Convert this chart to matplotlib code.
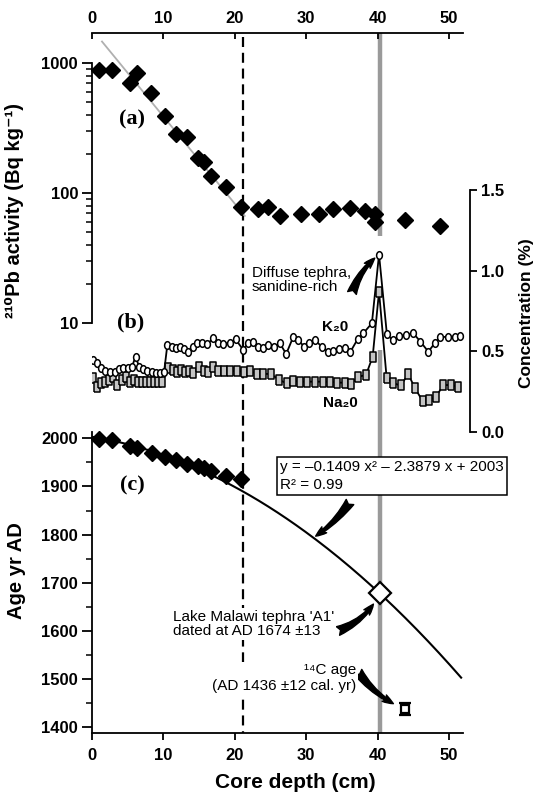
import numpy as np
import matplotlib
matplotlib.use("Agg")
import matplotlib.pyplot as plt
from matplotlib.transforms import Affine2D
from matplotlib.ticker import FixedLocator, NullFormatter

plt.rcParams['font.family'] = ['Liberation Sans', 'DejaVu Sans']

# ---------------- data ----------------
# (a) 210Pb activity
pb_depth = [1.0, 2.8, 5.3, 6.3, 8.3, 10.2, 11.7, 13.3, 14.8, 15.7, 16.7, 18.7, 20.8,
            23.2, 24.7, 26.3, 29.3, 31.8, 33.7, 36.2, 38.3, 39.7, 39.7, 43.8, 48.8]
pb_activity = [888, 895, 701, 842, 588, 393, 284, 270, 186, 173, 137, 111, 79,
               76, 79, 67, 69, 69, 76, 77, 73, 69, 60, 62, 56]
pb_fit_depth = [1.4, 21.4]
pb_fit_activity = [1470, 67]

# (b) K2O and Na2O concentration (%)
k2o_depth = [0.2, 0.65, 1.2, 1.8, 2.5, 3.2, 3.8, 4.4, 5.0, 5.6, 6.1, 6.6, 7.2, 7.75,
             8.4, 9.0, 9.5, 10.1, 10.55, 11.2, 11.7, 12.3, 12.9, 13.5, 14.1, 14.75,
             15.45, 16.15, 17.0, 17.7, 18.4, 19.3, 20.1, 21.2, 21.9, 22.6, 23.3, 24.0,
             24.7, 25.5, 26.3, 27.2, 28.2, 28.9, 29.7, 30.4, 31.2, 32.2, 33.1, 33.8,
             34.6, 35.4, 36.2, 37.2, 38.0, 39.2, 40.2, 41.3, 42.1, 43.0, 44.0, 45.0,
             46.0, 47.1, 48.0, 48.8, 49.8, 50.8, 51.5]
k2o_conc = [0.446, 0.426, 0.395, 0.380, 0.374, 0.374, 0.389, 0.399, 0.399, 0.405, 0.467,
            0.405, 0.389, 0.380, 0.372, 0.368, 0.368, 0.374, 0.539, 0.529, 0.523, 0.529,
            0.515, 0.498, 0.529, 0.550, 0.554, 0.546, 0.581, 0.550, 0.546, 0.554, 0.575,
            0.508, 0.554, 0.560, 0.529, 0.519, 0.539, 0.529, 0.550, 0.484, 0.591, 0.570,
            0.529, 0.550, 0.570, 0.529, 0.498, 0.504, 0.513, 0.523, 0.498, 0.575, 0.612,
            0.674, 1.10, 0.606, 0.570, 0.595, 0.601, 0.612, 0.560, 0.498, 0.550, 0.587,
            0.591, 0.591, 0.595]
na2o_depth = [0.2, 0.75, 1.26, 1.82, 2.43, 2.99, 3.55, 4.16, 4.76, 5.32, 5.88, 6.4, 6.96,
              7.56, 8.12, 8.68, 9.29, 9.85, 10.69, 11.3, 11.86, 12.46, 13.03, 13.63,
              14.19, 14.94, 15.69, 16.29, 16.99, 17.69, 18.49, 19.33, 20.35, 21.34, 22.13,
              23.07, 24.0, 25.03, 26.24, 27.27, 28.2, 29.13, 30.16, 31.23, 32.31, 33.33,
              34.36, 35.43, 36.23, 37.3, 38.37, 39.31, 40.2, 41.27, 42.2, 43.23, 44.3,
              45.24, 46.31, 47.24, 48.18, 49.21, 50.24, 51.31]
na2o_conc = [0.333, 0.281, 0.302, 0.312, 0.322, 0.343, 0.291, 0.322, 0.339, 0.312, 0.322,
             0.312, 0.312, 0.312, 0.312, 0.312, 0.312, 0.312, 0.395, 0.384, 0.374, 0.384,
             0.374, 0.380, 0.368, 0.405, 0.378, 0.374, 0.405, 0.378, 0.378, 0.378, 0.378,
             0.374, 0.378, 0.360, 0.360, 0.360, 0.322, 0.302, 0.318, 0.312, 0.312, 0.312,
             0.312, 0.312, 0.306, 0.306, 0.296, 0.343, 0.353, 0.467, 0.87, 0.333, 0.302,
             0.289, 0.358, 0.271, 0.192, 0.198, 0.219, 0.291, 0.291, 0.281]

# (c) age model
age_depth = [1.0, 2.8, 5.3, 6.3, 8.4, 10.2, 11.7, 13.3, 14.8, 15.7, 16.7, 18.7, 20.8]
age_ad = [1998, 1997, 1983, 1979, 1970, 1961, 1954, 1947, 1943, 1939, 1932, 1922, 1915]
fit_coeffs = [-0.1409, -2.3879, 2003]
fit_depth_range = [0.0, 51.7]
tephra_depth, tephra_age = 40.3, 1678
c14_depth, c14_age, c14_err = 43.8, 1438, 13
boundary_depth = 21.2
tephra_line_depth = 40.4

depth_ticks = [0, 10, 20, 30, 40, 50]

# ---------------- layout helpers ----------------
W, H = 537, 795
fig = plt.figure(figsize=(W / 100, H / 100), dpi=100)
PX = Affine2D().scale(1 / W, -1 / H).translate(0, 1) + fig.transFigure
CM = 7.14          # px per cm
X0 = 92            # px of 0 cm


def rect(l, t, r, b):
    return [l / W, 1 - b / H, (r - l) / W, (b - t) / H]


def clean(ax):
    ax.patch.set_visible(False)
    for s in ax.spines.values():
        s.set_visible(False)
        s.set_linewidth(1.3)


tickfont = dict(fontsize=12, fontweight='bold')
tall_rect = [(-0.36, -0.5), (0.36, -0.5), (0.36, 0.5), (-0.36, 0.5), (-0.36, -0.5)]
tall_oval = [(0.38 * np.cos(t), 0.5 * np.sin(t)) for t in np.linspace(0, 2 * np.pi, 25)]

# background axes for vertical reference lines
R = X0 + 52 * CM
ax_bg = fig.add_axes(rect(X0, 33, R, 733))
clean(ax_bg)
ax_bg.set_xlim(0, 52)
ax_bg.set_ylim(733, 33)
ax_bg.set_xticks([])
ax_bg.set_yticks([])
ax_bg.plot([tephra_line_depth] * 2, [33, 236], color='#9a9a9a', lw=3.2, solid_capstyle='butt', zorder=1)
ax_bg.plot([tephra_line_depth] * 2, [350, 733], color='#9a9a9a', lw=3.2, solid_capstyle='butt', zorder=1)
ax_bg.plot([boundary_depth] * 2, [37, 733], color='black', lw=1.6, dashes=(4.5, 2.6), zorder=1)

# ---------------- (a) ----------------
ax_a = fig.add_axes(rect(X0, 33, R, 323.3))
clean(ax_a)
ax_a.set_yscale('log')
ax_a.set_xlim(0, 52)
ax_a.set_ylim(10, 10 ** 3.233)
ax_a.spines['top'].set_visible(True)
ax_a.spines['left'].set_visible(True)
ax_a.spines['left'].set_bounds(10, 1000)
ax_a.xaxis.set_ticks_position('top')
ax_a.set_xticks(depth_ticks)
ax_a.set_xticklabels([str(t) for t in depth_ticks], **tickfont)
ax_a.tick_params(axis='x', direction='in', length=4, width=1.3, pad=5)
ax_a.yaxis.set_major_locator(FixedLocator([10, 100, 1000]))
ax_a.set_yticklabels(['10', '100', '1000'], **tickfont)
minors = [v * m for m in (10, 100) for v in range(2, 10)]
ax_a.yaxis.set_minor_locator(FixedLocator(minors))
ax_a.yaxis.set_minor_formatter(NullFormatter())
ax_a.tick_params(axis='y', which='major', direction='out', length=7, width=1.3, pad=3)
ax_a.tick_params(axis='y', which='minor', direction='out', length=4.5, width=1.1)
ax_a.plot(pb_fit_depth, pb_fit_activity, color='#b0b0b0', lw=1.3, zorder=2)
ax_a.plot(pb_depth, pb_activity, linestyle='none', marker='D', color='black',
          markersize=8.5, zorder=3, clip_on=False)

# ---------------- (b) ----------------
RB = 470
ax_b = fig.add_axes(rect(X0, 190, RB, 432))
clean(ax_b)
ax_b.set_xlim(0, (RB - X0) / CM)
ax_b.set_ylim(0, 1.5)
ax_b.set_xticks([])
ax_b.spines['right'].set_visible(True)
ax_b.yaxis.set_ticks_position('right')
ax_b.set_yticks([0.0, 0.5, 1.0, 1.5])
ax_b.set_yticklabels(['0.0', '0.5', '1.0', '1.5'], **tickfont)
ax_b.tick_params(axis='y', direction='out', length=5, width=1.3, pad=3)
ax_b.plot(na2o_depth, na2o_conc, color='black', lw=1.3, marker=tall_rect, markersize=7,
          markerfacecolor='#c4c4c4', markeredgecolor='black', markeredgewidth=1.1, zorder=3)
ax_b.plot(k2o_depth, k2o_conc, color='black', lw=1.3, marker=tall_oval, markersize=5.5,
          markerfacecolor='white', markeredgecolor='black', markeredgewidth=1.1, zorder=4)

# ---------------- (c) ----------------
ax_c = fig.add_axes(rect(X0, 432, R, 733))
clean(ax_c)
ax_c.set_xlim(0, 52)
ax_c.set_ylim(1388, 2013)
ax_c.spines['left'].set_visible(True)
ax_c.spines['bottom'].set_visible(True)
ax_c.set_xticks(depth_ticks)
ax_c.set_xticklabels([str(t) for t in depth_ticks], **tickfont)
ax_c.tick_params(axis='x', direction='out', length=5, width=1.3, pad=6)
ax_c.set_yticks([1400, 1500, 1600, 1700, 1800, 1900, 2000])
ax_c.set_yticklabels(['1400', '1500', '1600', '1700', '1800', '1900', '2000'], **tickfont)
ax_c.yaxis.set_minor_locator(FixedLocator([1450, 1550, 1650, 1750, 1850, 1950]))
ax_c.tick_params(axis='y', which='major', direction='out', length=7, width=1.3, pad=3)
ax_c.tick_params(axis='y', which='minor', direction='out', length=4.5, width=1.1)
xs = np.linspace(fit_depth_range[0], fit_depth_range[1], 200)
ax_c.plot(xs, np.polyval(fit_coeffs, xs), color='black', lw=1.5, zorder=2)
ax_c.plot(age_depth, age_ad, linestyle='none', marker='D', color='black',
          markersize=8.5, zorder=3, clip_on=False)
ax_c.plot([tephra_depth], [tephra_age], marker='D', markersize=11.5, markerfacecolor='white',
          markeredgecolor='black', markeredgewidth=1.6, zorder=4)
ax_c.errorbar([c14_depth], [c14_age], yerr=[c14_err], fmt='s', markersize=6,
              markerfacecolor='white', markeredgecolor='black', markeredgewidth=1.6,
              ecolor='black', elinewidth=1.5, capsize=4.5, capthick=2.4, zorder=4)

# ---------------- labels ----------------
fig.text(15, 211, '²¹⁰Pb activity (Bq kg⁻¹)', transform=PX, rotation=90,
         ha='center', va='center', fontsize=14.5, fontweight='bold')
fig.text(17, 571, 'Age yr AD', transform=PX, rotation=90,
         ha='center', va='center', fontsize=14.5, fontweight='bold')
fig.text(526, 313, 'Concentration (%)', transform=PX, rotation=90,
         ha='center', va='center', fontsize=12.5, fontweight='bold')
fig.text(295, 782, 'Core depth (cm)', transform=PX,
         ha='center', va='center', fontsize=15, fontweight='bold')

panel = dict(transform=PX, ha='center', va='center', fontsize=16, fontweight='bold',
             family='Liberation Serif')
fig.text(132, 119, '(a)', **panel)
fig.text(131, 322, '(b)', **panel)
fig.text(132, 485, '(c)', **panel)

fig.text(335, 327, 'K₂0', transform=PX, ha='center', va='center', fontsize=11,
         fontweight='bold', family=['Liberation Sans', 'DejaVu Sans'])
fig.text(340, 403, 'Na₂0', transform=PX, ha='center', va='center', fontsize=11,
         fontweight='bold', family=['Liberation Sans', 'DejaVu Sans'])

note = dict(transform=PX, fontsize=11)
fig.text(252, 280, 'Diffuse tephra,\nsanidine-rich', ha='left', va='center',
         linespacing=1.0, **note)
fig.text(280, 476, 'y = \u20130.1409 x² \u2013 2.3879 x + 2003\nR² = 0.99', ha='left', va='center',
         linespacing=1.35,
         bbox=dict(boxstyle='square,pad=0.2', facecolor='white', edgecolor='black', linewidth=1.1),
         **note)
fig.text(173, 624, "Lake Malawi tephra 'A1'\ndated at AD 1674 \u00b113", ha='left', va='center',
         linespacing=1.0,
         bbox=dict(boxstyle='square,pad=0.1', facecolor='white', edgecolor='none'), **note)
fig.text(356, 678, '¹⁴C age\n(AD 1436 \u00b112 cal. yr)', ha='right', va='center',
         multialignment='right', linespacing=1.1,
         bbox=dict(boxstyle='square,pad=0.1', facecolor='white', edgecolor='none'), **note)

arrow = dict(arrowstyle='fancy,head_length=0.7,head_width=0.5,tail_width=0.6',
             color='black', shrinkA=0, mutation_scale=11)
ax_b.annotate('', xy=(k2o_depth[k2o_conc.index(max(k2o_conc))], max(k2o_conc)),
              xycoords='data', xytext=(352, 293), textcoords=PX,
              arrowprops=dict(arrow, shrinkB=4, connectionstyle='arc3,rad=-0.15'))
ax_c.annotate('', xy=(31.0, np.polyval(fit_coeffs, 31.0)), xycoords='data',
              xytext=(350, 502), textcoords=PX,
              arrowprops=dict(arrow, shrinkB=2, connectionstyle='arc3,rad=-0.1'))
ax_c.annotate('', xy=(tephra_depth, tephra_age), xycoords='data',
              xytext=(338, 631), textcoords=PX,
              arrowprops=dict(arrow, shrinkB=9, connectionstyle='arc3,rad=0.2'))
ax_c.annotate('', xy=(c14_depth, c14_age), xycoords='data',
              xytext=(358, 672), textcoords=PX,
              arrowprops=dict(arrow, shrinkB=9, connectionstyle='arc3,rad=0.15'))

fig.savefig('out.png', dpi=100)
